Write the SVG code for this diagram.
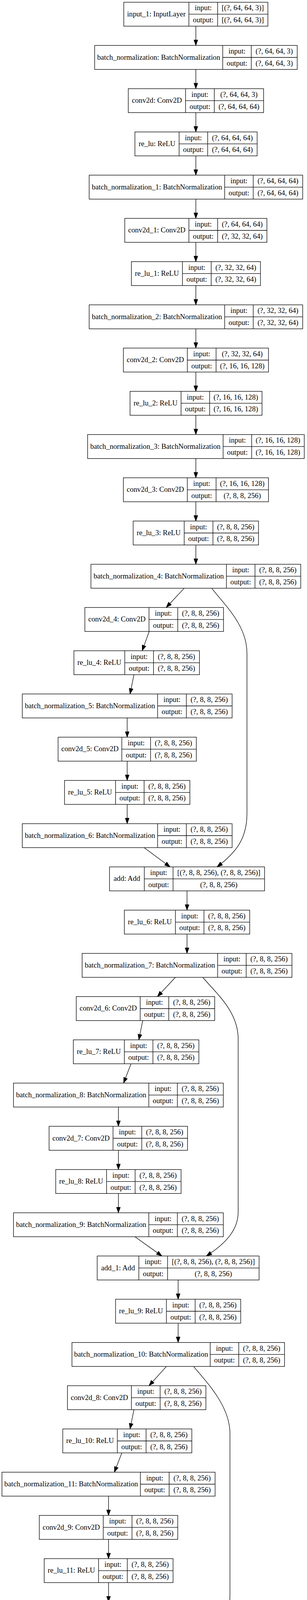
<svg xmlns="http://www.w3.org/2000/svg" width="785" height="6160" viewBox="0 0 785 6160">
<style>
.n rect{fill:#fff;stroke:#000;stroke-width:1.33}
.n path{fill:none;stroke:#000;stroke-width:1.33}
.n text{font-family:"Liberation Serif","Times New Roman",serif;font-size:18.67px;text-anchor:middle;fill:#000}
#edges path{fill:none;stroke:#000;stroke-width:1.33;marker-end:url(#ah)}
</style>
<defs>
<marker id="ah" markerUnits="userSpaceOnUse" markerWidth="14" markerHeight="10" refX="14" refY="5" orient="auto" overflow="visible"><path d="M0,0L14,5L0,10z" fill="#000" stroke="#000" stroke-width="1"/></marker>
</defs>
<rect width="785" height="6160" fill="#fff"/>
<g id="edges">
<path d="M500.75,67V116.35"/>
<path d="M500.75,177.68V227.03"/>
<path d="M500.75,288.36V337.71"/>
<path d="M500.75,399.04V448.39"/>
<path d="M500.75,509.72V559.07"/>
<path d="M500.75,620.4V669.75"/>
<path d="M500.75,731.08V780.43"/>
<path d="M500.75,841.76V891.11"/>
<path d="M500.75,952.44V1001.79"/>
<path d="M500.75,1063.12V1112.47"/>
<path d="M500.75,1173.8V1223.15"/>
<path d="M500.75,1284.48V1333.83"/>
<path d="M500.75,1395.16V1444.51"/>
<path d="M471,1505.84L425,1555.19"/>
<path d="M541.5,1505.84C575,1550 631.5,1600 631.5,1673L631.5,2083C631.5,2150 600,2185 555,2219.27"/>
<path d="M381.5,1616.52L363.5,1665.87"/>
<path d="M342.5,1727.2L332.5,1776.55"/>
<path d="M325.25,1837.88V1887.23"/>
<path d="M325.25,1948.56V1997.91"/>
<path d="M325.25,2059.24V2108.59"/>
<path d="M368.5,2169.92L435,2219.27"/>
<path d="M478.25,2280.6V2329.95"/>
<path d="M478.25,2391.28V2440.63"/>
<path d="M448.5,2501.96L402.5,2551.31"/>
<path d="M518.5,2501.96C555,2545 609,2590 609,2660L609,3103C609,3150 575,3185 527.5,3215.39"/>
<path d="M365,2612.64L355,2661.99"/>
<path d="M335,2723.32L316,2772.67"/>
<path d="M302.75,2834V2883.35"/>
<path d="M302.75,2944.68V2994.03"/>
<path d="M302.75,3055.36V3104.71"/>
<path d="M345,3166.04L414,3215.39"/>
<path d="M455.5,3276.72V3326.07"/>
<path d="M455.5,3387.4V3436.75"/>
<path d="M425.5,3498.08L381,3547.43"/>
<path d="M495,3498.08C530,3540 588,3600 588,3670L588,4085C588,4140 560,4180 507.5,4211.51"/>
<path d="M342.5,3608.76L332.5,3658.11"/>
<path d="M311.5,3719.44L292.5,3768.79"/>
<path d="M277.5,3830.12V3879.47"/>
<path d="M277.5,3940.8V3990.15"/>
<path d="M277.5,4051.48V4100.83"/>
<path d="M320.5,4162.16L387.5,4211.51"/>
<path d="M431.75,4272.84V4322.19"/>
<path d="M431.75,4383.52V4432.87"/>
<path d="M431.75,4494.2V4543.55"/>
<path d="M431.75,4604.88V4654.23"/>
<path d="M431.75,4715.56V4764.91"/>
<path d="M431.75,4826.24V4875.59"/>
<path d="M431.75,4936.92V4986.27"/>
<path d="M431.75,5047.6V5096.95"/>
<path d="M431.75,5158.28V5207.63"/>
<path d="M431.75,5268.96V5318.31"/>
<path d="M431.75,5379.64V5428.99"/>
<path d="M431.75,5490.32V5539.67"/>
<path d="M431.75,5601V5650.35"/>
<path d="M431.75,5711.68V5761.03"/>
<path d="M431.75,5822.36V5871.71"/>
<path d="M431.75,5933.04V5982.39"/>
<path d="M431.75,6043.72V6093.07"/>
</g>
<g id="input_1" class="n" transform="translate(0,5.67)"><rect x="316.5" y="0" width="368.5" height="61.33"/><path d="M483,0V61.33M556.5,0V61.33M483,30.67H685"/><text x="399.75" y="36.2">input_1: InputLayer</text><text x="519.75" y="20.8">input:</text><text x="620.75" y="20.8">[(?, 64, 64, 3)]</text><text x="519.75" y="51.5">output:</text><text x="620.75" y="51.5">[(?, 64, 64, 3)]</text></g>
<g id="batch_normalization" class="n" transform="translate(0,116.35)"><rect x="242" y="0" width="518" height="61.33"/><path d="M569.5,0V61.33M642.5,0V61.33M569.5,30.67H760"/><text x="405.75" y="36.2">batch_normalization: BatchNormalization</text><text x="606" y="20.8">input:</text><text x="701.25" y="20.8">(?, 64, 64, 3)</text><text x="606" y="51.5">output:</text><text x="701.25" y="51.5">(?, 64, 64, 3)</text></g>
<g id="conv2d" class="n" transform="translate(0,227.03)"><rect x="328" y="0" width="346" height="61.33"/><path d="M474.5,0V61.33M548,0V61.33M474.5,30.67H674"/><text x="401.25" y="36.2">conv2d: Conv2D</text><text x="511.25" y="20.8">input:</text><text x="611" y="20.8">(?, 64, 64, 3)</text><text x="511.25" y="51.5">output:</text><text x="611" y="51.5">(?, 64, 64, 64)</text></g>
<g id="re_lu" class="n" transform="translate(0,337.71)"><rect x="345" y="0" width="312.5" height="61.33"/><path d="M458,0V61.33M531,0V61.33M458,30.67H657.5"/><text x="401.5" y="36.2">re_lu: ReLU</text><text x="494.5" y="20.8">input:</text><text x="594.25" y="20.8">(?, 64, 64, 64)</text><text x="494.5" y="51.5">output:</text><text x="594.25" y="51.5">(?, 64, 64, 64)</text></g>
<g id="batch_normalization_1" class="n" transform="translate(0,448.39)"><rect x="228" y="0" width="546" height="61.33"/><path d="M574.5,0V61.33M647.5,0V61.33M574.5,30.67H774"/><text x="401.25" y="36.2">batch_normalization_1: BatchNormalization</text><text x="611" y="20.8">input:</text><text x="710.75" y="20.8">(?, 64, 64, 64)</text><text x="611" y="51.5">output:</text><text x="710.75" y="51.5">(?, 64, 64, 64)</text></g>
<g id="conv2d_1" class="n" transform="translate(0,559.07)"><rect x="319" y="0" width="363.5" height="61.33"/><path d="M483,0V61.33M556.5,0V61.33M483,30.67H682.5"/><text x="401" y="36.2">conv2d_1: Conv2D</text><text x="519.75" y="20.8">input:</text><text x="619.5" y="20.8">(?, 64, 64, 64)</text><text x="519.75" y="51.5">output:</text><text x="619.5" y="51.5">(?, 32, 32, 64)</text></g>
<g id="re_lu_1" class="n" transform="translate(0,669.75)"><rect x="336" y="0" width="330" height="61.33"/><path d="M466.5,0V61.33M540,0V61.33M466.5,30.67H666"/><text x="401.25" y="36.2">re_lu_1: ReLU</text><text x="503.25" y="20.8">input:</text><text x="603" y="20.8">(?, 32, 32, 64)</text><text x="503.25" y="51.5">output:</text><text x="603" y="51.5">(?, 32, 32, 64)</text></g>
<g id="batch_normalization_2" class="n" transform="translate(0,780.43)"><rect x="228" y="0" width="546" height="61.33"/><path d="M574.5,0V61.33M647.5,0V61.33M574.5,30.67H774"/><text x="401.25" y="36.2">batch_normalization_2: BatchNormalization</text><text x="611" y="20.8">input:</text><text x="710.75" y="20.8">(?, 32, 32, 64)</text><text x="611" y="51.5">output:</text><text x="710.75" y="51.5">(?, 32, 32, 64)</text></g>
<g id="conv2d_2" class="n" transform="translate(0,891.11)"><rect x="315.5" y="0" width="371" height="61.33"/><path d="M479,0V61.33M552.5,0V61.33M479,30.67H686.5"/><text x="397.25" y="36.2">conv2d_2: Conv2D</text><text x="515.75" y="20.8">input:</text><text x="619.5" y="20.8">(?, 32, 32, 64)</text><text x="515.75" y="51.5">output:</text><text x="619.5" y="51.5">(?, 16, 16, 128)</text></g>
<g id="re_lu_2" class="n" transform="translate(0,1001.79)"><rect x="332.5" y="0" width="337.5" height="61.33"/><path d="M463,0V61.33M536,0V61.33M463,30.67H670"/><text x="397.75" y="36.2">re_lu_2: ReLU</text><text x="499.5" y="20.8">input:</text><text x="603" y="20.8">(?, 16, 16, 128)</text><text x="499.5" y="51.5">output:</text><text x="603" y="51.5">(?, 16, 16, 128)</text></g>
<g id="batch_normalization_3" class="n" transform="translate(0,1112.47)"><rect x="224" y="0" width="554" height="61.33"/><path d="M570.5,0V61.33M643.5,0V61.33M570.5,30.67H778"/><text x="397.25" y="36.2">batch_normalization_3: BatchNormalization</text><text x="607" y="20.8">input:</text><text x="710.75" y="20.8">(?, 16, 16, 128)</text><text x="607" y="51.5">output:</text><text x="710.75" y="51.5">(?, 16, 16, 128)</text></g>
<g id="conv2d_3" class="n" transform="translate(0,1223.15)"><rect x="315.5" y="0" width="371" height="61.33"/><path d="M479,0V61.33M552.5,0V61.33M479,30.67H686.5"/><text x="397.25" y="36.2">conv2d_3: Conv2D</text><text x="515.75" y="20.8">input:</text><text x="619.5" y="20.8">(?, 16, 16, 128)</text><text x="515.75" y="51.5">output:</text><text x="619.5" y="51.5">(?, 8, 8, 256)</text></g>
<g id="re_lu_3" class="n" transform="translate(0,1333.83)"><rect x="340.5" y="0" width="320.5" height="61.33"/><path d="M471,0V61.33M544.5,0V61.33M471,30.67H661"/><text x="405.75" y="36.2">re_lu_3: ReLU</text><text x="507.75" y="20.8">input:</text><text x="602.75" y="20.8">(?, 8, 8, 256)</text><text x="507.75" y="51.5">output:</text><text x="602.75" y="51.5">(?, 8, 8, 256)</text></g>
<g id="batch_normalization_4" class="n" transform="translate(0,1444.51)"><rect x="232.5" y="0" width="536.5" height="61.33"/><path d="M579,0V61.33M652,0V61.33M579,30.67H769"/><text x="405.75" y="36.2">batch_normalization_4: BatchNormalization</text><text x="615.5" y="20.8">input:</text><text x="710.5" y="20.8">(?, 8, 8, 256)</text><text x="615.5" y="51.5">output:</text><text x="710.5" y="51.5">(?, 8, 8, 256)</text></g>
<g id="conv2d_4" class="n" transform="translate(0,1555.19)"><rect x="217" y="0" width="354.5" height="61.33"/><path d="M381,0V61.33M454.5,0V61.33M381,30.67H571.5"/><text x="299" y="36.2">conv2d_4: Conv2D</text><text x="417.75" y="20.8">input:</text><text x="513" y="20.8">(?, 8, 8, 256)</text><text x="417.75" y="51.5">output:</text><text x="513" y="51.5">(?, 8, 8, 256)</text></g>
<g id="re_lu_4" class="n" transform="translate(0,1665.87)"><rect x="189" y="0" width="321" height="61.33"/><path d="M319,0V61.33M392.5,0V61.33M319,30.67H510"/><text x="254" y="36.2">re_lu_4: ReLU</text><text x="355.75" y="20.8">input:</text><text x="451.25" y="20.8">(?, 8, 8, 256)</text><text x="355.75" y="51.5">output:</text><text x="451.25" y="51.5">(?, 8, 8, 256)</text></g>
<g id="batch_normalization_5" class="n" transform="translate(0,1776.55)"><rect x="57" y="0" width="536.5" height="61.33"/><path d="M403,0V61.33M476.5,0V61.33M403,30.67H593.5"/><text x="230" y="36.2">batch_normalization_5: BatchNormalization</text><text x="439.75" y="20.8">input:</text><text x="535" y="20.8">(?, 8, 8, 256)</text><text x="439.75" y="51.5">output:</text><text x="535" y="51.5">(?, 8, 8, 256)</text></g>
<g id="conv2d_5" class="n" transform="translate(0,1887.23)"><rect x="148.5" y="0" width="353.5" height="61.33"/><path d="M311.5,0V61.33M385,0V61.33M311.5,30.67H502"/><text x="230" y="36.2">conv2d_5: Conv2D</text><text x="348.25" y="20.8">input:</text><text x="443.5" y="20.8">(?, 8, 8, 256)</text><text x="348.25" y="51.5">output:</text><text x="443.5" y="51.5">(?, 8, 8, 256)</text></g>
<g id="re_lu_5" class="n" transform="translate(0,1997.91)"><rect x="165" y="0" width="320.5" height="61.33"/><path d="M295.5,0V61.33M368.5,0V61.33M295.5,30.67H485.5"/><text x="230.25" y="36.2">re_lu_5: ReLU</text><text x="332" y="20.8">input:</text><text x="427" y="20.8">(?, 8, 8, 256)</text><text x="332" y="51.5">output:</text><text x="427" y="51.5">(?, 8, 8, 256)</text></g>
<g id="batch_normalization_6" class="n" transform="translate(0,2108.59)"><rect x="57" y="0" width="536.5" height="61.33"/><path d="M403,0V61.33M476.5,0V61.33M403,30.67H593.5"/><text x="230" y="36.2">batch_normalization_6: BatchNormalization</text><text x="439.75" y="20.8">input:</text><text x="535" y="20.8">(?, 8, 8, 256)</text><text x="439.75" y="51.5">output:</text><text x="535" y="51.5">(?, 8, 8, 256)</text></g>
<g id="add" class="n" transform="translate(0,2219.27)"><rect x="280" y="0" width="396.5" height="61.33"/><path d="M369,0V61.33M442.5,0V61.33M369,30.67H676.5"/><text x="324.5" y="36.2">add: Add</text><text x="405.75" y="20.8">input:</text><text x="559.5" y="20.8">[(?, 8, 8, 256), (?, 8, 8, 256)]</text><text x="405.75" y="51.5">output:</text><text x="559.5" y="51.5">(?, 8, 8, 256)</text></g>
<g id="re_lu_6" class="n" transform="translate(0,2329.95)"><rect x="318" y="0" width="320.5" height="61.33"/><path d="M448.5,0V61.33M521.5,0V61.33M448.5,30.67H638.5"/><text x="383.25" y="36.2">re_lu_6: ReLU</text><text x="485" y="20.8">input:</text><text x="580" y="20.8">(?, 8, 8, 256)</text><text x="485" y="51.5">output:</text><text x="580" y="51.5">(?, 8, 8, 256)</text></g>
<g id="batch_normalization_7" class="n" transform="translate(0,2440.63)"><rect x="210" y="0" width="536.5" height="61.33"/><path d="M556.5,0V61.33M629.5,0V61.33M556.5,30.67H746.5"/><text x="383.25" y="36.2">batch_normalization_7: BatchNormalization</text><text x="593" y="20.8">input:</text><text x="688" y="20.8">(?, 8, 8, 256)</text><text x="593" y="51.5">output:</text><text x="688" y="51.5">(?, 8, 8, 256)</text></g>
<g id="conv2d_6" class="n" transform="translate(0,2551.31)"><rect x="195" y="0" width="354" height="61.33"/><path d="M358.5,0V61.33M431.5,0V61.33M358.5,30.67H549"/><text x="276.75" y="36.2">conv2d_6: Conv2D</text><text x="395" y="20.8">input:</text><text x="490.25" y="20.8">(?, 8, 8, 256)</text><text x="395" y="51.5">output:</text><text x="490.25" y="51.5">(?, 8, 8, 256)</text></g>
<g id="re_lu_7" class="n" transform="translate(0,2661.99)"><rect x="187.5" y="0" width="321" height="61.33"/><path d="M318,0V61.33M391,0V61.33M318,30.67H508.5"/><text x="252.75" y="36.2">re_lu_7: ReLU</text><text x="354.5" y="20.8">input:</text><text x="449.75" y="20.8">(?, 8, 8, 256)</text><text x="354.5" y="51.5">output:</text><text x="449.75" y="51.5">(?, 8, 8, 256)</text></g>
<g id="batch_normalization_8" class="n" transform="translate(0,2772.67)"><rect x="34.5" y="0" width="536.5" height="61.33"/><path d="M380.5,0V61.33M453.5,0V61.33M380.5,30.67H571"/><text x="207.5" y="36.2">batch_normalization_8: BatchNormalization</text><text x="417" y="20.8">input:</text><text x="512.25" y="20.8">(?, 8, 8, 256)</text><text x="417" y="51.5">output:</text><text x="512.25" y="51.5">(?, 8, 8, 256)</text></g>
<g id="conv2d_7" class="n" transform="translate(0,2883.35)"><rect x="125.5" y="0" width="354" height="61.33"/><path d="M289,0V61.33M362.5,0V61.33M289,30.67H479.5"/><text x="207.25" y="36.2">conv2d_7: Conv2D</text><text x="325.75" y="20.8">input:</text><text x="421" y="20.8">(?, 8, 8, 256)</text><text x="325.75" y="51.5">output:</text><text x="421" y="51.5">(?, 8, 8, 256)</text></g>
<g id="re_lu_8" class="n" transform="translate(0,2994.03)"><rect x="142.5" y="0" width="320.5" height="61.33"/><path d="M272.5,0V61.33M345.5,0V61.33M272.5,30.67H463"/><text x="207.5" y="36.2">re_lu_8: ReLU</text><text x="309" y="20.8">input:</text><text x="404.25" y="20.8">(?, 8, 8, 256)</text><text x="309" y="51.5">output:</text><text x="404.25" y="51.5">(?, 8, 8, 256)</text></g>
<g id="batch_normalization_9" class="n" transform="translate(0,3104.71)"><rect x="34.5" y="0" width="536.5" height="61.33"/><path d="M380.5,0V61.33M453.5,0V61.33M380.5,30.67H571"/><text x="207.5" y="36.2">batch_normalization_9: BatchNormalization</text><text x="417" y="20.8">input:</text><text x="512.25" y="20.8">(?, 8, 8, 256)</text><text x="417" y="51.5">output:</text><text x="512.25" y="51.5">(?, 8, 8, 256)</text></g>
<g id="add_1" class="n" transform="translate(0,3215.39)"><rect x="248.5" y="0" width="414" height="61.33"/><path d="M355,0V61.33M428.5,0V61.33M355,30.67H662.5"/><text x="301.75" y="36.2">add_1: Add</text><text x="391.75" y="20.8">input:</text><text x="545.5" y="20.8">[(?, 8, 8, 256), (?, 8, 8, 256)]</text><text x="391.75" y="51.5">output:</text><text x="545.5" y="51.5">(?, 8, 8, 256)</text></g>
<g id="re_lu_9" class="n" transform="translate(0,3326.07)"><rect x="295.5" y="0" width="320" height="61.33"/><path d="M425.5,0V61.33M499,0V61.33M425.5,30.67H615.5"/><text x="360.5" y="36.2">re_lu_9: ReLU</text><text x="462.25" y="20.8">input:</text><text x="557.25" y="20.8">(?, 8, 8, 256)</text><text x="462.25" y="51.5">output:</text><text x="557.25" y="51.5">(?, 8, 8, 256)</text></g>
<g id="batch_normalization_10" class="n" transform="translate(0,3436.75)"><rect x="184" y="0" width="543.5" height="61.33"/><path d="M537.5,0V61.33M610.5,0V61.33M537.5,30.67H727.5"/><text x="360.75" y="36.2">batch_normalization_10: BatchNormalization</text><text x="574" y="20.8">input:</text><text x="669" y="20.8">(?, 8, 8, 256)</text><text x="574" y="51.5">output:</text><text x="669" y="51.5">(?, 8, 8, 256)</text></g>
<g id="conv2d_8" class="n" transform="translate(0,3547.43)"><rect x="172.5" y="0" width="354" height="61.33"/><path d="M336,0V61.33M409.5,0V61.33M336,30.67H526.5"/><text x="254.25" y="36.2">conv2d_8: Conv2D</text><text x="372.75" y="20.8">input:</text><text x="468" y="20.8">(?, 8, 8, 256)</text><text x="372.75" y="51.5">output:</text><text x="468" y="51.5">(?, 8, 8, 256)</text></g>
<g id="re_lu_10" class="n" transform="translate(0,3658.11)"><rect x="160.5" y="0" width="330" height="61.33"/><path d="M300,0V61.33M373.5,0V61.33M300,30.67H490.5"/><text x="230.25" y="36.2">re_lu_10: ReLU</text><text x="336.75" y="20.8">input:</text><text x="432" y="20.8">(?, 8, 8, 256)</text><text x="336.75" y="51.5">output:</text><text x="432" y="51.5">(?, 8, 8, 256)</text></g>
<g id="batch_normalization_11" class="n" transform="translate(0,3768.79)"><rect x="5" y="0" width="545" height="61.33"/><path d="M359,0V61.33M432.5,0V61.33M359,30.67H550"/><text x="182" y="36.2">batch_normalization_11: BatchNormalization</text><text x="395.75" y="20.8">input:</text><text x="491.25" y="20.8">(?, 8, 8, 256)</text><text x="395.75" y="51.5">output:</text><text x="491.25" y="51.5">(?, 8, 8, 256)</text></g>
<g id="conv2d_9" class="n" transform="translate(0,3879.47)"><rect x="100.5" y="0" width="354" height="61.33"/><path d="M264,0V61.33M337.5,0V61.33M264,30.67H454.5"/><text x="182.25" y="36.2">conv2d_9: Conv2D</text><text x="300.75" y="20.8">input:</text><text x="396" y="20.8">(?, 8, 8, 256)</text><text x="300.75" y="51.5">output:</text><text x="396" y="51.5">(?, 8, 8, 256)</text></g>
<g id="re_lu_11" class="n" transform="translate(0,3990.15)"><rect x="113" y="0" width="329.5" height="61.33"/><path d="M252,0V61.33M325.5,0V61.33M252,30.67H442.5"/><text x="182.5" y="36.2">re_lu_11: ReLU</text><text x="288.75" y="20.8">input:</text><text x="384" y="20.8">(?, 8, 8, 256)</text><text x="288.75" y="51.5">output:</text><text x="384" y="51.5">(?, 8, 8, 256)</text></g>
<g id="batch_normalization_12" class="n" transform="translate(0,4100.83)"><rect x="5" y="0" width="545" height="61.33"/><path d="M359,0V61.33M432.5,0V61.33M359,30.67H550"/><text x="182" y="36.2">batch_normalization_12: BatchNormalization</text><text x="395.75" y="20.8">input:</text><text x="491.25" y="20.8">(?, 8, 8, 256)</text><text x="395.75" y="51.5">output:</text><text x="491.25" y="51.5">(?, 8, 8, 256)</text></g>
<g id="add_2" class="n" transform="translate(0,4211.51)"><rect x="224.5" y="0" width="414" height="61.33"/><path d="M331,0V61.33M404.5,0V61.33M331,30.67H638.5"/><text x="277.75" y="36.2">add_2: Add</text><text x="367.75" y="20.8">input:</text><text x="521.5" y="20.8">[(?, 8, 8, 256), (?, 8, 8, 256)]</text><text x="367.75" y="51.5">output:</text><text x="521.5" y="51.5">(?, 8, 8, 256)</text></g>
<g id="re_lu_12" class="n" transform="translate(0,4322.19)"><rect x="266.5" y="0" width="330" height="61.33"/><path d="M406.5,0V61.33M480,0V61.33M406.5,30.67H596.5"/><text x="336.5" y="36.2">re_lu_12: ReLU</text><text x="443.25" y="20.8">input:</text><text x="538.25" y="20.8">(?, 8, 8, 256)</text><text x="443.25" y="51.5">output:</text><text x="538.25" y="51.5">(?, 8, 8, 256)</text></g>
<g id="batch_normalization_13" class="n" transform="translate(0,4432.87)"><rect x="160" y="0" width="544" height="61.33"/><path d="M513.5,0V61.33M587,0V61.33M513.5,30.67H704"/><text x="336.75" y="36.2">batch_normalization_13: BatchNormalization</text><text x="550.25" y="20.8">input:</text><text x="645.5" y="20.8">(?, 8, 8, 256)</text><text x="550.25" y="51.5">output:</text><text x="645.5" y="51.5">(?, 8, 8, 256)</text></g>
<g id="conv2d_transpose" class="n" transform="translate(0,4543.55)"><rect x="179.5" y="0" width="504" height="61.33"/><path d="M476,0V61.33M549.5,0V61.33M476,30.67H683.5"/><text x="327.75" y="36.2">conv2d_transpose: Conv2DTranspose</text><text x="512.75" y="20.8">input:</text><text x="616.5" y="20.8">(?, 8, 8, 256)</text><text x="512.75" y="51.5">output:</text><text x="616.5" y="51.5">(?, 16, 16, 256)</text></g>
<g id="re_lu_13" class="n" transform="translate(0,4654.23)"><rect x="258" y="0" width="347.5" height="61.33"/><path d="M398,0V61.33M471.5,0V61.33M398,30.67H605.5"/><text x="328" y="36.2">re_lu_13: ReLU</text><text x="434.75" y="20.8">input:</text><text x="538.5" y="20.8">(?, 16, 16, 256)</text><text x="434.75" y="51.5">output:</text><text x="538.5" y="51.5">(?, 16, 16, 256)</text></g>
<g id="batch_normalization_14" class="n" transform="translate(0,4764.91)"><rect x="151" y="0" width="561.5" height="61.33"/><path d="M505.5,0V61.33M578.5,0V61.33M505.5,30.67H712.5"/><text x="328.25" y="36.2">batch_normalization_14: BatchNormalization</text><text x="542" y="20.8">input:</text><text x="645.5" y="20.8">(?, 16, 16, 256)</text><text x="542" y="51.5">output:</text><text x="645.5" y="51.5">(?, 16, 16, 256)</text></g>
<g id="conv2d_transpose_1" class="n" transform="translate(0,4875.59)"><rect x="171" y="0" width="521.5" height="61.33"/><path d="M485,0V61.33M558.5,0V61.33M485,30.67H692.5"/><text x="328" y="36.2">conv2d_transpose_1: Conv2DTranspose</text><text x="521.75" y="20.8">input:</text><text x="625.5" y="20.8">(?, 16, 16, 256)</text><text x="521.75" y="51.5">output:</text><text x="625.5" y="51.5">(?, 32, 32, 128)</text></g>
<g id="re_lu_14" class="n" transform="translate(0,4986.27)"><rect x="258" y="0" width="347.5" height="61.33"/><path d="M398,0V61.33M471.5,0V61.33M398,30.67H605.5"/><text x="328" y="36.2">re_lu_14: ReLU</text><text x="434.75" y="20.8">input:</text><text x="538.5" y="20.8">(?, 32, 32, 128)</text><text x="434.75" y="51.5">output:</text><text x="538.5" y="51.5">(?, 32, 32, 128)</text></g>
<g id="batch_normalization_15" class="n" transform="translate(0,5096.95)"><rect x="151" y="0" width="561.5" height="61.33"/><path d="M505.5,0V61.33M578.5,0V61.33M505.5,30.67H712.5"/><text x="328.25" y="36.2">batch_normalization_15: BatchNormalization</text><text x="542" y="20.8">input:</text><text x="645.5" y="20.8">(?, 32, 32, 128)</text><text x="542" y="51.5">output:</text><text x="645.5" y="51.5">(?, 32, 32, 128)</text></g>
<g id="conv2d_transpose_2" class="n" transform="translate(0,5207.63)"><rect x="171" y="0" width="521.5" height="61.33"/><path d="M485,0V61.33M558.5,0V61.33M485,30.67H692.5"/><text x="328" y="36.2">conv2d_transpose_2: Conv2DTranspose</text><text x="521.75" y="20.8">input:</text><text x="625.5" y="20.8">(?, 32, 32, 128)</text><text x="521.75" y="51.5">output:</text><text x="625.5" y="51.5">(?, 64, 64, 64)</text></g>
<g id="re_lu_15" class="n" transform="translate(0,5318.31)"><rect x="262" y="0" width="339" height="61.33"/><path d="M402,0V61.33M475.5,0V61.33M402,30.67H601"/><text x="332" y="36.2">re_lu_15: ReLU</text><text x="438.75" y="20.8">input:</text><text x="538.25" y="20.8">(?, 64, 64, 64)</text><text x="438.75" y="51.5">output:</text><text x="538.25" y="51.5">(?, 64, 64, 64)</text></g>
<g id="batch_normalization_16" class="n" transform="translate(0,5428.99)"><rect x="155.5" y="0" width="553" height="61.33"/><path d="M509.5,0V61.33M582.5,0V61.33M509.5,30.67H708.5"/><text x="332.5" y="36.2">batch_normalization_16: BatchNormalization</text><text x="546" y="20.8">input:</text><text x="645.5" y="20.8">(?, 64, 64, 64)</text><text x="546" y="51.5">output:</text><text x="645.5" y="51.5">(?, 64, 64, 64)</text></g>
<g id="conv2d_transpose_3" class="n" transform="translate(0,5539.67)"><rect x="166.5" y="0" width="530.5" height="61.33"/><path d="M480.5,0V61.33M554,0V61.33M480.5,30.67H697"/><text x="323.5" y="36.2">conv2d_transpose_3: Conv2DTranspose</text><text x="517.25" y="20.8">input:</text><text x="625.5" y="20.8">(?, 64, 64, 64)</text><text x="517.25" y="51.5">output:</text><text x="625.5" y="51.5">(?, 128, 128, 64)</text></g>
<g id="re_lu_16" class="n" transform="translate(0,5650.35)"><rect x="253.5" y="0" width="356.5" height="61.33"/><path d="M393.5,0V61.33M466.5,0V61.33M393.5,30.67H610"/><text x="323.5" y="36.2">re_lu_16: ReLU</text><text x="430" y="20.8">input:</text><text x="538.25" y="20.8">(?, 128, 128, 64)</text><text x="430" y="51.5">output:</text><text x="538.25" y="51.5">(?, 128, 128, 64)</text></g>
<g id="batch_normalization_17" class="n" transform="translate(0,5761.03)"><rect x="146.5" y="0" width="571" height="61.33"/><path d="M500.5,0V61.33M574,0V61.33M500.5,30.67H717.5"/><text x="323.5" y="36.2">batch_normalization_17: BatchNormalization</text><text x="537.25" y="20.8">input:</text><text x="645.75" y="20.8">(?, 128, 128, 64)</text><text x="537.25" y="51.5">output:</text><text x="645.75" y="51.5">(?, 128, 128, 64)</text></g>
<g id="conv2d_transpose_4" class="n" transform="translate(0,5871.71)"><rect x="166.5" y="0" width="530.5" height="61.33"/><path d="M480.5,0V61.33M554,0V61.33M480.5,30.67H697"/><text x="323.5" y="36.2">conv2d_transpose_4: Conv2DTranspose</text><text x="517.25" y="20.8">input:</text><text x="625.5" y="20.8">(?, 128, 128, 64)</text><text x="517.25" y="51.5">output:</text><text x="625.5" y="51.5">(?, 128, 128, 3)</text></g>
<g id="activation" class="n" transform="translate(0,5982.39)"><rect x="239" y="0" width="385.5" height="61.33"/><path d="M417,0V61.33M490.5,0V61.33M417,30.67H624.5"/><text x="328" y="36.2">activation: Activation</text><text x="453.75" y="20.8">input:</text><text x="557.5" y="20.8">(?, 128, 128, 3)</text><text x="453.75" y="51.5">output:</text><text x="557.5" y="51.5">(?, 128, 128, 3)</text></g>
<g id="rescaling" class="n" transform="translate(0,6093.07)"><rect x="244" y="0" width="375" height="61.33"/><path d="M412,0V61.33M485,0V61.33M412,30.67H619"/><text x="328" y="36.2">rescaling: Rescaling</text><text x="448.5" y="20.8">input:</text><text x="552" y="20.8">(?, 128, 128, 3)</text><text x="448.5" y="51.5">output:</text><text x="552" y="51.5">(?, 128, 128, 3)</text></g>
</svg>
